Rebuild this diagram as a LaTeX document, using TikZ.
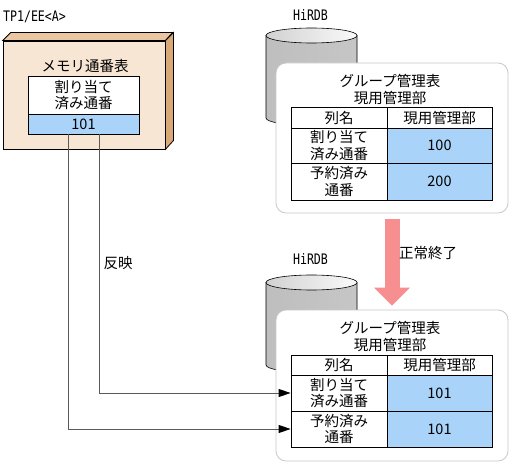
\documentclass[tikz,border=0pt]{standalone}
\usepackage{fontspec}
\setmainfont{Noto Sans CJK JP}
\newfontfamily\monof[FakeStretch=0.8]{DejaVu Sans Mono}
\usetikzlibrary{arrows.meta}
\definecolor{beige}{HTML}{F8E6D4}
\definecolor{tanside}{HTML}{D9A877}
\definecolor{tantop}{HTML}{EBC6A2}
\definecolor{cellblue}{HTML}{A9D3F8}
\definecolor{pinkarr}{HTML}{F78E90}
\definecolor{boxgray}{HTML}{C8C8C8}
\definecolor{linegray}{HTML}{5A5A5A}
\definecolor{cylL}{HTML}{BEBEBE}
\definecolor{cylM}{HTML}{FAFAFA}
\definecolor{cylR}{HTML}{C6C6C6}
\tikzset{
  jp/.style={font=\fontsize{14.5}{16.5}\selectfont},
  monolabel/.style={font=\monof\fontsize{14.5}{16}\selectfont, inner sep=0pt},
  cell/.style={draw=black, line width=0.8pt, inner sep=0pt, align=center, jp},
  bluecell/.style={cell, fill=cellblue},
  whitecell/.style={cell, fill=white},
  rbox/.style={draw=boxgray, line width=0.8pt, fill=white, rounded corners=10pt, inner sep=0pt},
  conn/.style={draw=linegray, line width=0.9pt, -{Triangle[length=12pt,width=8pt,color=black]}},
  plain/.style={jp, inner sep=0pt, align=center},
  dbcyl/.pic={
    \path[draw=black, line width=0.6pt, left color=cylL, middle color=cylM, right color=cylR]
      (-45.5,0) -- (-45.5,82.5) arc[start angle=180, end angle=0, x radius=45.5, y radius=7.5] -- (45.5,0) -- cycle;
    \path[draw=black, line width=0.6pt, left color=black!18, right color=black!2]
      (0,0) ellipse[x radius=45.5, y radius=7.5];
  }
}
\begin{document}
\begin{tikzpicture}[x=1pt, y=-1pt]
\useasboundingbox (0,0) rectangle (511,465);
\fill[white] (0,0) rectangle (511,465);

% ---- memory table (3D box) ----
\node[monolabel] (tp) at (34.5,17) {TP1/EE<A>};
\node[draw=black, line width=0.8pt, fill=beige, minimum width=162pt, minimum height=108pt, inner sep=0pt] (mem) at (84,95) {};
\fill[tantop, draw=black, line width=0.8pt] (mem.north west) -- ++(8,-8) -- ++(162,0) -- (mem.north east) -- cycle;
\fill[tanside, draw=black, line width=0.8pt] (mem.north east) -- ++(8,-8) -- ++(0,108) -- (mem.south east) -- cycle;
\node[plain] (memtitle) at (85,66) {メモリ通番表};
\node[whitecell, minimum width=111pt, minimum height=38pt] (mlabel) at (83.5,95) {割り当て\\済み通番};
\node[bluecell, minimum width=111pt, minimum height=20pt] (m101) at (83.5,124) {101};

% ---- top HiRDB ----
\node[monolabel] (hir1) at (310.5,15) {HiRDB};
\pic at (311.5,35.5) {dbcyl};
\node[rbox, minimum width=232pt, minimum height=150pt] (topbox) at (392,138) {};
\node[plain] (ttitle) at (390,89.5) {グループ管理表\\現用管理部};
\node[whitecell, minimum width=96pt, minimum height=21pt] (th1) at (339,117.5) {列名};
\node[whitecell, minimum width=105pt, minimum height=21pt] (th2) at (439.5,117.5) {現用管理部};
\node[whitecell, minimum width=96pt, minimum height=35pt] (t1a) at (339,145.5) {割り当て\\済み通番};
\node[bluecell, minimum width=105pt, minimum height=35pt] (t1b) at (439.5,145.5) {100};
\node[whitecell, minimum width=96pt, minimum height=37pt] (t2a) at (339,181.5) {予約済み\\通番};
\node[bluecell, minimum width=105pt, minimum height=37pt] (t2b) at (439.5,181.5) {200};

% ---- bottom HiRDB ----
\node[monolabel] (hir2) at (310.5,259) {HiRDB};
\pic at (311.5,282.5) {dbcyl};
\node[rbox, minimum width=232pt, minimum height=151pt] (botbox) at (392,385.5) {};
\node[plain] (btitle) at (390,336.5) {グループ管理表\\現用管理部};
\node[whitecell, minimum width=96pt, minimum height=20pt] (bh1) at (339,365) {列名};
\node[whitecell, minimum width=105pt, minimum height=20pt] (bh2) at (439.5,365) {現用管理部};
\node[whitecell, minimum width=96pt, minimum height=36pt] (b1a) at (339,393) {割り当て\\済み通番};
\node[bluecell, minimum width=105pt, minimum height=36pt] (b1b) at (439.5,393) {101};
\node[whitecell, minimum width=96pt, minimum height=36pt] (b2a) at (339,429) {予約済み\\通番};
\node[bluecell, minimum width=105pt, minimum height=36pt] (b2b) at (439.5,429) {101};

% ---- normal end arrow ----
\draw[pinkarr, line width=15pt, -{Triangle[length=18pt,width=35pt]}]
  ([yshift=-6pt]topbox.south) -- ([yshift=4pt]botbox.north);
\node[plain] (ok) at (428,253) {正常終了};

% ---- reflect connectors ----
\draw[conn] ([xshift=15.5pt]m101.south) |- (b1a.west);
\draw[conn] ([xshift=-15.5pt]m101.south) |- (b2a.west);
\node[plain] (refl) at (118,263) {反映};
\end{tikzpicture}
\end{document}
